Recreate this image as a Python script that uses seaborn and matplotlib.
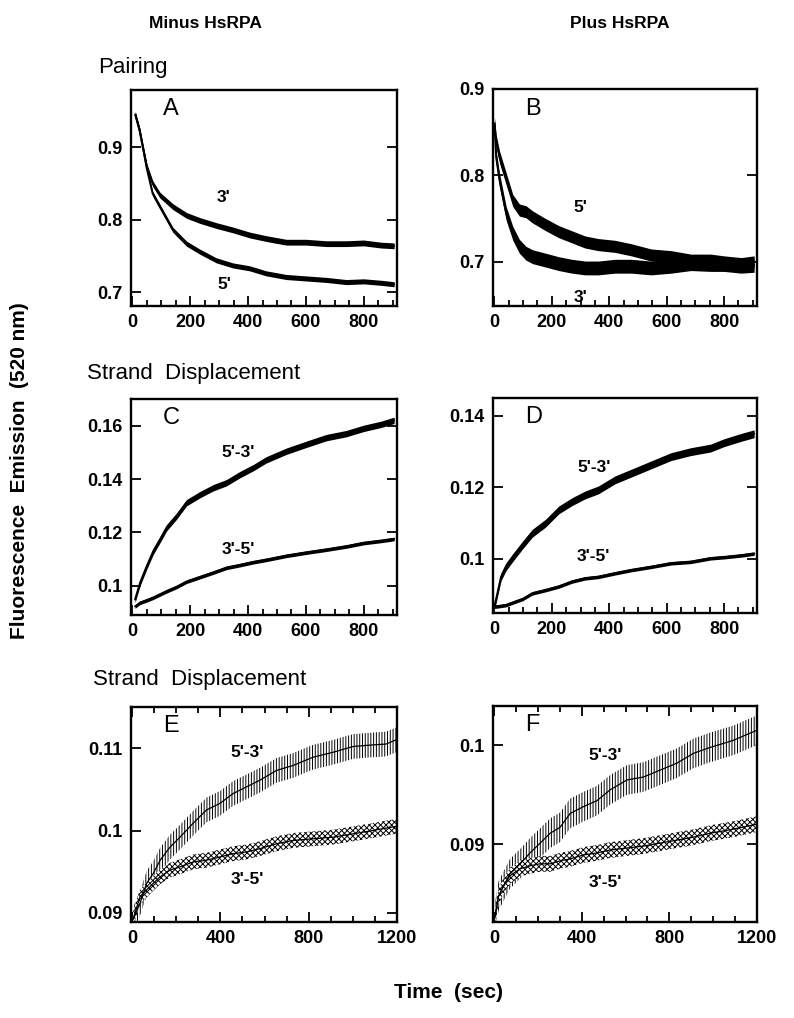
import numpy as np
import pandas as pd
import matplotlib
matplotlib.use('Agg')
import matplotlib.pyplot as plt
from matplotlib.ticker import MultipleLocator, FuncFormatter
import seaborn as sns

# Pairing, minus HsRPA (A)
t_a = [10, 25, 50, 70, 95, 140, 187, 233, 290, 347, 405, 463, 532, 601, 670, 740, 800, 860, 905]
a_3p = [0.945, 0.923, 0.873, 0.850, 0.834, 0.818, 0.806, 0.799, 0.792, 0.786, 0.779,
        0.774, 0.769, 0.769, 0.767, 0.767, 0.768, 0.765, 0.764]
a_5p = [0.945, 0.923, 0.870, 0.836, 0.818, 0.786, 0.767, 0.756, 0.744, 0.737, 0.733,
        0.726, 0.721, 0.719, 0.717, 0.714, 0.715, 0.713, 0.711]

# Pairing, plus HsRPA (B)
t_b = [0, 6, 18, 41, 64, 87, 110, 133, 179, 224, 270, 316, 362, 420, 477, 546, 616, 685, 754, 800, 860, 905]
b_5p = [0.860, 0.840, 0.821, 0.796, 0.771, 0.760, 0.758, 0.752, 0.743, 0.735, 0.729,
        0.723, 0.720, 0.718, 0.714, 0.708, 0.706, 0.702, 0.702, 0.700, 0.698, 0.700]
b_3p = [0.860, 0.821, 0.794, 0.756, 0.733, 0.718, 0.710, 0.706, 0.702, 0.698, 0.695,
        0.693, 0.693, 0.695, 0.695, 0.693, 0.695, 0.698, 0.697, 0.697, 0.695, 0.696]

# Strand displacement, minus HsRPA (C)
t_c = [9, 26, 49, 72, 95, 118, 152, 187, 233, 279, 325, 371, 417, 463, 532, 601, 670, 739, 800, 860, 905]
c_53 = [0.0948, 0.101, 0.1072, 0.1129, 0.1172, 0.1217, 0.126, 0.1311, 0.1341, 0.1367, 0.1386,
        0.1416, 0.1442, 0.1472, 0.1504, 0.153, 0.1555, 0.157, 0.159, 0.1605, 0.162]
c_35 = [0.0922, 0.0936, 0.0945, 0.0955, 0.0967, 0.0979, 0.0995, 0.1015, 0.1032, 0.1049, 0.1067,
        0.1077, 0.1088, 0.1097, 0.1112, 0.1124, 0.1135, 0.1147, 0.116, 0.1168, 0.1175]

# Strand displacement, plus HsRPA (D)
t_d = [0, 5, 23, 40, 63, 98, 132, 178, 224, 270, 316, 362, 420, 477, 546, 615, 684, 753, 800, 860, 905]
d_53 = [0.0871, 0.0885, 0.095, 0.0978, 0.1003, 0.1039, 0.1072, 0.110, 0.1137, 0.116, 0.1179,
        0.1193, 0.1221, 0.124, 0.1263, 0.1286, 0.130, 0.131, 0.1325, 0.134, 0.135]
d_35 = [0.0867, 0.0867, 0.0869, 0.0871, 0.0878, 0.0888, 0.0904, 0.0913, 0.0923, 0.0937, 0.0946,
        0.095, 0.096, 0.0969, 0.0978, 0.0988, 0.0992, 0.1002, 0.1005, 0.101, 0.1015]

# Strand displacement (longer run), minus HsRPA (E)
t_e = [5, 36, 66, 96, 127, 172, 217, 277, 337, 398, 458, 518, 578, 654, 729, 819, 910, 1000, 1090, 1150, 1195]
e_53 = [0.0892, 0.0912, 0.0936, 0.0948, 0.0964, 0.098, 0.0992, 0.1009, 0.1025, 0.1033, 0.1045,
        0.1053, 0.1061, 0.1073, 0.1079, 0.1089, 0.1095, 0.1102, 0.1104, 0.1105, 0.111]
e_35 = [0.0893, 0.092, 0.0928, 0.0936, 0.0944, 0.0952, 0.0956, 0.0962, 0.0964, 0.0968, 0.0972,
        0.0974, 0.0978, 0.0984, 0.0988, 0.099, 0.0992, 0.0996, 0.100, 0.1003, 0.1005]

# Strand displacement (longer run), plus HsRPA (F)
t_f = [5, 20, 42, 73, 119, 164, 210, 256, 301, 347, 408, 469, 530, 606, 682, 758, 834, 910, 986, 1090, 1195]
f_53 = [0.0827, 0.0847, 0.0857, 0.087, 0.088, 0.0891, 0.0901, 0.0911, 0.0917, 0.0931, 0.0938,
        0.0944, 0.0955, 0.0965, 0.0968, 0.0975, 0.0982, 0.0992, 0.0998, 0.1005, 0.1015]
f_35 = [0.0827, 0.0847, 0.0857, 0.0868, 0.0875, 0.0878, 0.088, 0.088, 0.0883, 0.0885, 0.0889,
        0.0891, 0.0894, 0.0896, 0.0898, 0.0901, 0.0904, 0.0907, 0.0911, 0.0915, 0.092]

# noise half-width of each trace
spread = {'A3': 0.004, 'A5': 0.0035, 'B5': 0.007, 'B3': 0.008,
          'C53': 0.0012, 'C35': 0.0007, 'D53': 0.0011, 'D35': 0.0005,
          'E53': 0.0015, 'E35': 0.0009, 'F53': 0.0015, 'F35': 0.0008}

sns.set_style('ticks')
plt.rcParams['font.family'] = ['Liberation Sans', 'DejaVu Sans']
plt.rcParams.update({'text.color': 'black', 'axes.edgecolor': 'black',
                     'xtick.color': 'black', 'ytick.color': 'black',
                     'axes.labelcolor': 'black', 'hatch.linewidth': 0.7})


def trace(ax, t, y, s, hatch=None):
    y = np.asarray(y)
    if hatch:
        ax.fill_between(t, y - s, y + s, facecolor='white', edgecolor='black',
                        hatch=hatch, linewidth=0)
        lw = 0.9
    else:
        ax.fill_between(t, y - s, y + s, color='black', linewidth=0)
        lw = 1.4
    sns.lineplot(x=t, y=y, ax=ax, color='black', linewidth=lw, estimator=None)


def style(ax, xlim, ylim, xmaj, xmin, ymaj, letter, top_ticks=False):
    ax.set_xlim(xlim)
    ax.set_ylim(ylim)
    ax.xaxis.set_major_locator(MultipleLocator(xmaj))
    if xmin:
        ax.xaxis.set_minor_locator(MultipleLocator(xmin))
    ax.yaxis.set_major_locator(MultipleLocator(ymaj))
    ax.yaxis.set_major_formatter(FuncFormatter(lambda v, p: '%g' % round(v, 4)))
    ax.tick_params(which='both', direction='in', right=True, top=top_ticks,
                   labelsize=13, width=1.3, pad=6)
    ax.tick_params(which='major', length=7)
    ax.tick_params(which='minor', length=4)
    for lab in ax.get_xticklabels() + ax.get_yticklabels():
        lab.set_fontweight('bold')
    for sp in ax.spines.values():
        sp.set_linewidth(1.7)
    ax.set_xlabel('')
    ax.set_ylabel('')
    ax.text(0.12, 0.91, letter, transform=ax.transAxes, fontsize=17, va='center')


def label(ax, x, y, s):
    ax.text(x, y, s, fontsize=12.5, fontweight='bold', ha='center', va='center')


fig = plt.figure(figsize=(7.94, 10.18), dpi=100)
W, H = 794, 1018


def box(l, t, r, b):
    return fig.add_axes([l / W, 1 - b / H, (r - l) / W, (b - t) / H])


axA = box(131, 90, 397, 306)
axB = box(493, 89, 757, 306)
axC = box(131, 399, 397, 615)
axD = box(493, 398, 757, 613)
axE = box(131, 707, 397, 922)
axF = box(493, 706, 757, 922)

trace(axA, t_a, a_3p, spread['A3'])
trace(axA, t_a, a_5p, spread['A5'])
style(axA, (-5, 915), (0.681, 0.979), 200, 50, 0.1, 'A')
label(axA, 314, 0.831, "3'")
label(axA, 318, 0.710, "5'")

trace(axB, t_b, b_5p, spread['B5'])
trace(axB, t_b, b_3p, spread['B3'])
style(axB, (-5, 915), (0.649, 0.9), 200, 50, 0.1, 'B')
label(axB, 300, 0.763, "5'")
label(axB, 300, 0.659, "3'")

trace(axC, t_c, c_53, spread['C53'])
trace(axC, t_c, c_35, spread['C35'])
style(axC, (-5, 915), (0.089, 0.170), 200, 50, 0.02, 'C')
label(axC, 367, 0.150, "5'-3'")
label(axC, 367, 0.1136, "3'-5'")

trace(axD, t_d, d_53, spread['D53'])
trace(axD, t_d, d_35, spread['D35'])
style(axD, (-5, 915), (0.0849, 0.145), 200, 50, 0.02, 'D')
label(axD, 346, 0.1256, "5'-3'")
label(axD, 346, 0.1006, "3'-5'")

trace(axE, t_e, e_53, spread['E53'], hatch='||||||')
trace(axE, t_e, e_35, spread['E35'], hatch='xxxxxx')
style(axE, (-5, 1200), (0.0889, 0.115), 400, 100, 0.01, 'E', top_ticks=True)
label(axE, 520, 0.1095, "5'-3'")
label(axE, 520, 0.094, "3'-5'")

trace(axF, t_f, f_53, spread['F53'], hatch='||||||')
trace(axF, t_f, f_35, spread['F35'], hatch='xxxxxx')
style(axF, (-5, 1200), (0.0821, 0.104), 400, 100, 0.01, 'F', top_ticks=True)
label(axF, 506, 0.099, "5'-3'")
label(axF, 506, 0.0861, "3'-5'")

fig.text(205 / W, 1 - 24 / H, 'Minus HsRPA', fontsize=12.5, fontweight='bold', ha='center', va='center')
fig.text(620 / W, 1 - 24 / H, 'Plus HsRPA', fontsize=12.5, fontweight='bold', ha='center', va='center')
fig.text(98 / W, 1 - 67 / H, 'Pairing', fontsize=16, ha='left', va='center')
fig.text(87 / W, 1 - 373 / H, 'Strand  Displacement', fontsize=16, ha='left', va='center')
fig.text(93 / W, 1 - 680 / H, 'Strand  Displacement', fontsize=16, ha='left', va='center')
fig.text(20 / W, 1 - 471 / H, 'Fluorescence  Emission  (520 nm)', fontsize=15,
         fontweight='bold', rotation=90, ha='center', va='center')
fig.text(448 / W, 1 - 993 / H, 'Time  (sec)', fontsize=15, fontweight='bold', ha='center', va='center')

fig.savefig('out.png', dpi=100)
